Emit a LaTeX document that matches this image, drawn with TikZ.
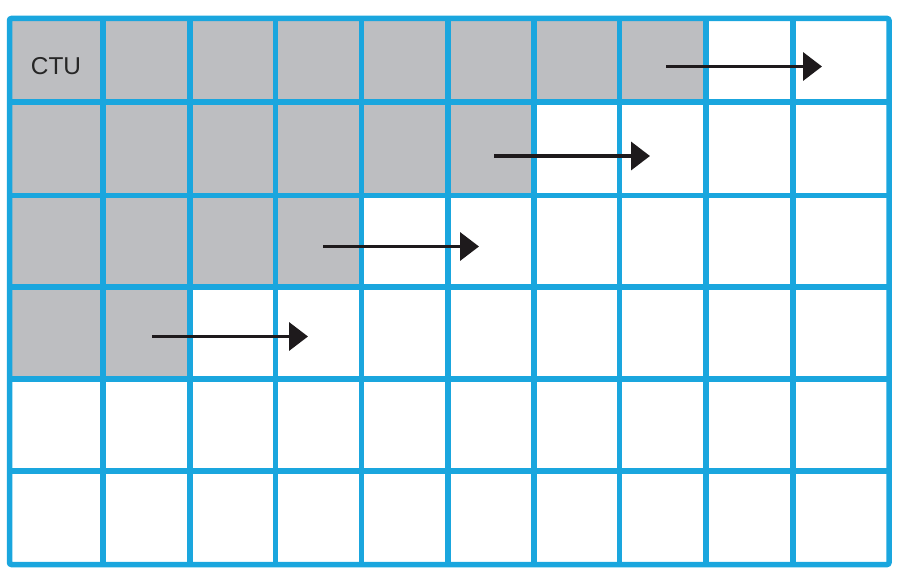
\documentclass[tikz,border=0pt]{standalone}
\usepackage{fontspec}
\setmainfont{Liberation Sans}
\usetikzlibrary{arrows.meta}
\usepackage{xcolor}
\definecolor{gridblue}{RGB}{26,166,222}
\definecolor{ctugray}{RGB}{189,190,193}
\definecolor{arrowblack}{RGB}{30,26,28}
\tikzset{
  gridline/.style={gridblue,line width=5.5bp},
  scanarrow/.style={arrowblack,line width=3.6bp,->,>={Triangle[length=19bp,width=28bp]}}
}

\begin{document}
\begin{tikzpicture}[x=1bp,y=-1bp]
\useasboundingbox (0,0) rectangle (910,586);
% coded CTUs
\fill[ctugray] (9.5,18.5) -- (706,18.5) -- (706,102) -- (534,102) -- (534,195.5) -- (361.5,195.5) -- (361.5,287) -- (190,287) -- (190,379) -- (9.5,379) -- cycle;
% grid
\foreach \x in {103,190,275.5,361.5,448,534,619.5,706,793}
  \draw[gridline] (\x,18.5) -- (\x,564.5);
\foreach \y in {102,195.5,287,379,471}
  \draw[gridline] (9.5,\y) -- (889,\y);
\draw[gridline,rounded corners=2bp] (9.5,18.5) rectangle (889,564.5);
\node[text=black!85,font=\fontsize{24.5}{24.5}\selectfont] (ctu) at (56,66) {CTU};
% arrows
\coordinate (a1s) at (666,66.5);
\coordinate (a1e) at (822,66.5);
\draw[scanarrow] (a1s) -- (a1e);
\coordinate (a2s) at (494,156);
\coordinate (a2e) at (650,156);
\draw[scanarrow] (a2s) -- (a2e);
\coordinate (a3s) at (323,246.5);
\coordinate (a3e) at (479,246.5);
\draw[scanarrow] (a3s) -- (a3e);
\coordinate (a4s) at (152,336.5);
\coordinate (a4e) at (308,336.5);
\draw[scanarrow] (a4s) -- (a4e);
\end{tikzpicture}
\end{document}
